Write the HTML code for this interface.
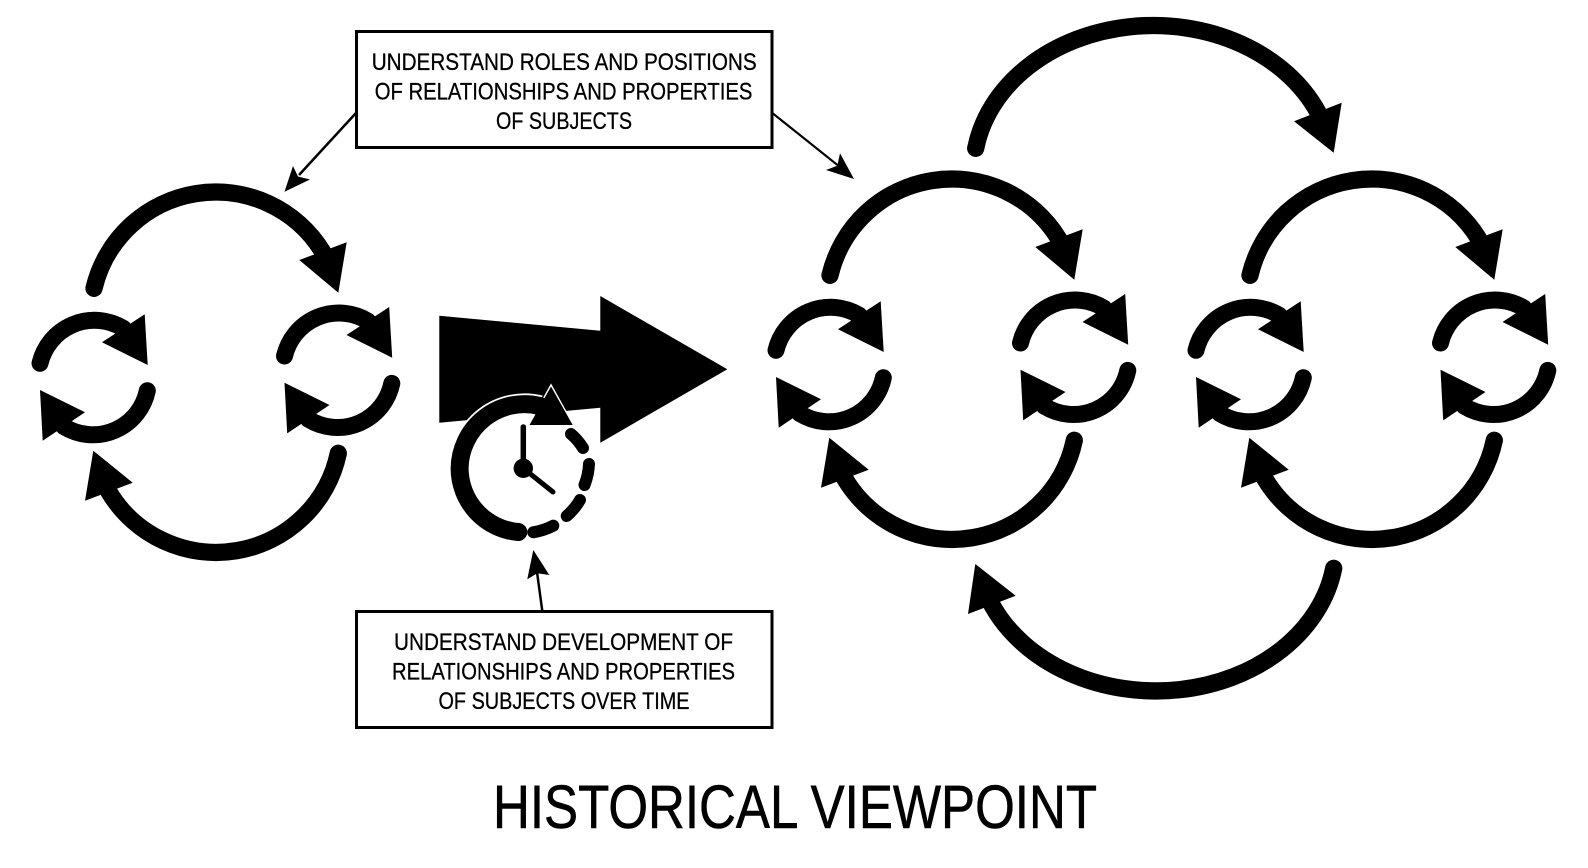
<!DOCTYPE html>
<html lang="en">
<head>
<meta charset="utf-8">
<title>Historical Viewpoint</title>
<style>
html,body{margin:0;padding:0;background:#fff}
svg{display:block}
text{font-family:"Liberation Sans",sans-serif;fill:#000;text-anchor:start}
.l{font-size:24px;stroke:#000;stroke-width:.3px}
.a{fill:none;stroke:#000;stroke-linecap:round}
</style>
</head>
<body>
<svg xmlns="http://www.w3.org/2000/svg" width="1588" height="868" viewBox="0 0 1588 868">
<rect width="1588" height="868" fill="#fff"/>
<defs>
  <g id="small">
    <path class="a" stroke-width="17" d="M40 363.3A56 56 0 0 1 123.3 328.3"/>
    <polygon points="144.7,314.3 147.7,365 102,342.3"/>
    <path class="a" stroke-width="17" d="M147.3 390.7A55.5 55.5 0 0 1 63.8 426.5"/>
    <polygon points="42.7,440.7 40,390 85,412.3"/>
  </g>
  <g id="pair">
    <path class="a" stroke-width="17.3" d="M94 288.3A125.3 125.3 0 0 1 322.5 251.5"/>
    <polygon points="346.7,242.3 338.3,292.7 299.3,260"/>
    <path class="a" stroke-width="17.3" d="M338.3 453.3A125 125 0 0 1 108.8 491.7"/>
    <polygon points="85,500.7 93.3,450.7 132.7,482.7"/>
    <use href="#small"/>
    <use href="#small" x="244.5" y="-7.3"/>
  </g>
</defs>

<use href="#pair"/>
<use href="#pair" x="736" y="-13"/>
<use href="#pair" x="1156" y="-13"/>

<!-- outer arcs -->
<path class="a" stroke-width="17.3" d="M975.7 148.3A180 146 0 0 1 1317.8 112"/>
<polygon points="1341.7,102.7 1333.7,152.7 1294,121.3"/>
<path class="a" stroke-width="17.3" d="M1333.7 568.3A180 146 0 0 1 991.9 604.9"/>
<polygon points="968,614 975.3,564 1015.7,595.7"/>

<!-- big arrow -->
<polygon points="439.3,315.7 600.3,330.7 600.3,296 727.3,369.3 600.3,442.7 600.3,407.7 439.3,422.7"/>

<!-- clock -->
<circle cx="523.3" cy="468.3" r="64" fill="#fff"/>
<path d="M518.3 532A64 64 0 0 1 459.6 468.3A65 65 0 0 1 540 406" fill="none" stroke="#fff" stroke-width="21.5"/>
<polygon points="529.5,425 551,386 572.7,425" stroke="#fff" stroke-width="2.5" stroke-linejoin="miter"/>
<path class="a" stroke-width="18" d="M518.3 532A64 64 0 0 1 459.6 468.3A65 65 0 0 1 540 406"/>
<polygon points="529.5,425 551,386.5 572.7,425"/>
<path class="a" stroke-width="12" d="M571 434A60 60 0 0 1 583 448"/>
<path class="a" stroke-width="12" d="M589 464A66 66 0 0 1 584.5 485"/>
<path class="a" stroke-width="12" d="M580 500A66 66 0 0 1 566.7 516"/>
<path class="a" stroke-width="12" d="M553.3 525.7A66 66 0 0 1 533.3 532.3"/>
<line x1="523.3" y1="468.3" x2="523.3" y2="427" stroke="#000" stroke-width="5.5" stroke-linecap="round"/>
<line x1="523.3" y1="468.3" x2="553" y2="492" stroke="#000" stroke-width="5" stroke-linecap="round"/>
<circle cx="523.3" cy="468.3" r="9.7"/>

<!-- boxes -->
<rect x="356.5" y="31.5" width="415.5" height="116" fill="#fff" stroke="#000" stroke-width="3"/>
<rect x="356.5" y="611.5" width="415.5" height="116" fill="#fff" stroke="#000" stroke-width="3"/>

<!-- thin connectors -->
<line x1="356" y1="113" x2="299" y2="175" stroke="#000" stroke-width="2.5"/>
<polygon points="284.5,191.7 310,179.5 298,176.5 293,166"/>
<line x1="772.7" y1="113.3" x2="838.3" y2="165.7" stroke="#000" stroke-width="2.2"/>
<polygon points="854,179 840,153.3 837.3,165.7 826,170"/>
<line x1="542.3" y1="611" x2="537" y2="572" stroke="#000" stroke-width="2.5"/>
<polygon points="533.3,550 527.3,579.3 537.3,573.3 549.3,575"/>

<!-- labels -->
<text class="l" x="371.7" y="70" textLength="385" lengthAdjust="spacingAndGlyphs">UNDERSTAND ROLES AND POSITIONS</text>
<text class="l" x="374.7" y="99.5" textLength="377.7" lengthAdjust="spacingAndGlyphs">OF RELATIONSHIPS AND PROPERTIES</text>
<text class="l" x="496" y="129" textLength="136" lengthAdjust="spacingAndGlyphs">OF SUBJECTS</text>

<text class="l" x="394" y="650" textLength="339" lengthAdjust="spacingAndGlyphs">UNDERSTAND DEVELOPMENT OF</text>
<text class="l" x="392" y="679.5" textLength="343" lengthAdjust="spacingAndGlyphs">RELATIONSHIPS AND PROPERTIES</text>
<text class="l" x="438.5" y="709" textLength="251" lengthAdjust="spacingAndGlyphs">OF SUBJECTS OVER TIME</text>

<text x="493" y="828" font-size="61" stroke="#000" stroke-width=".6" textLength="604" lengthAdjust="spacingAndGlyphs">HISTORICAL VIEWPOINT</text>
</svg>
</body>
</html>
